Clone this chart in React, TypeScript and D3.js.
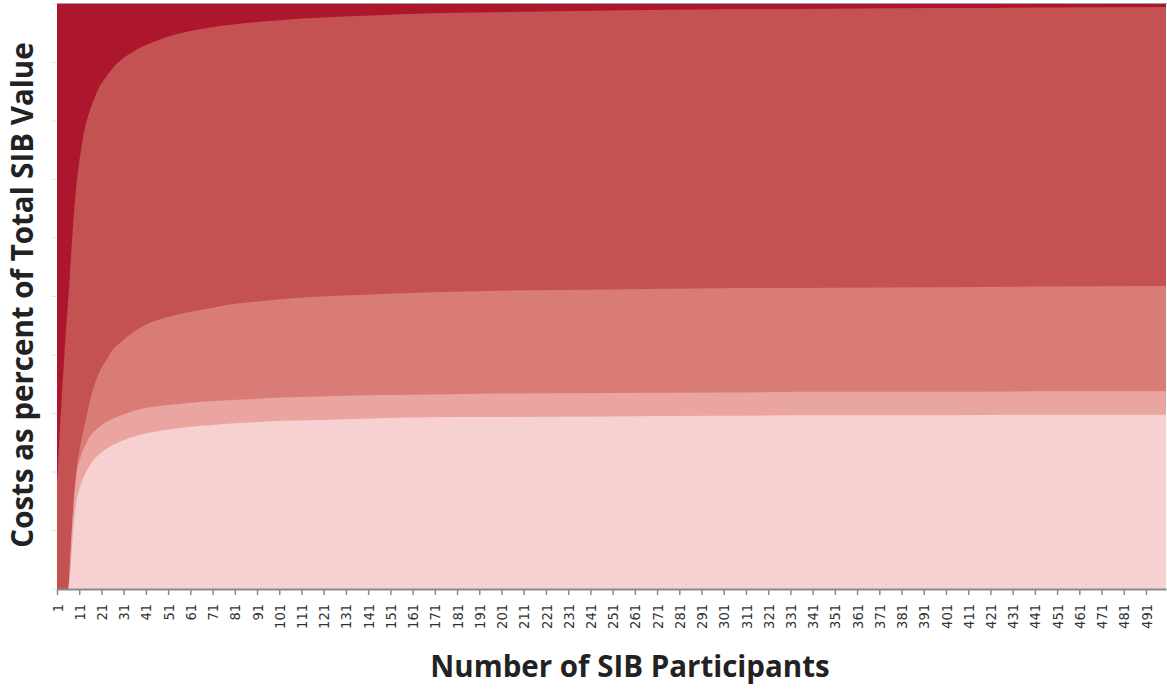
import { useRef, useMemo, useEffect } from 'react';
import * as d3 from 'd3';

// participants (x) at the points
const participants = [1, 2, 3, 4, 5, 6, 7, 8, 9, 10, 11, 12, 13, 14, 16, 18, 20, 23, 26, 30, 35, 40, 45, 50, 60, 70, 80, 90, 100, 120, 140, 160, 180, 200, 250, 300, 350, 400, 450, 500];

// upper edge of each band, percent of total SIB value
const totalCost = participants.map(() => 100);
const bandRed = [18, 25, 32, 38, 44, 49, 55, 61, 66, 70, 73, 75.5, 77.8, 79.5, 82, 84, 85.8, 87.5, 89, 90.5, 91.8, 92.8, 93.6, 94.3, 95.3, 96, 96.5, 96.9, 97.2, 97.7, 98, 98.3, 98.5, 98.6, 98.9, 99.1, 99.2, 99.3, 99.4, 99.5];
const bandMid = [0, 0, 0, 0, 0, 0, 6, 12, 17, 21, 23.5, 25.5, 27.3, 29, 32.5, 35, 37, 39, 40.8, 42.3, 43.8, 45, 45.8, 46.4, 47.3, 48, 48.7, 49.1, 49.5, 50, 50.3, 50.6, 50.8, 51, 51.2, 51.4, 51.5, 51.6, 51.7, 51.8];
const bandLight = [0, 0, 0, 0, 0, 0, 5.5, 12, 17, 20.3, 21.8, 23, 24, 24.8, 26.2, 27, 27.7, 28.5, 29.1, 29.7, 30.4, 30.9, 31.2, 31.4, 31.8, 32.1, 32.3, 32.5, 32.7, 32.9, 33.1, 33.2, 33.3, 33.4, 33.5, 33.6, 33.7, 33.7, 33.8, 33.8];
const bandPale = [0, 0, 0, 0, 0, 0, 3, 8.5, 12.8, 15.5, 17, 18.2, 19.1, 19.9, 21.3, 22.3, 23, 23.9, 24.6, 25.3, 26, 26.5, 26.9, 27.2, 27.7, 28, 28.3, 28.5, 28.7, 28.9, 29.1, 29.3, 29.4, 29.4, 29.5, 29.6, 29.7, 29.7, 29.8, 29.8];

const seriesList = [
  { key: 'total', values: totalCost, color: '#ad172d' },
  { key: 'red', values: bandRed, color: '#c55252' },
  { key: 'mid', values: bandMid, color: '#d97c77' },
  { key: 'light', values: bandLight, color: '#eaa5a1' },
  { key: 'pale', values: bandPale, color: '#f7d1d1' },
];

const tickValues = d3.range(1, 500, 10);
const yTicks = d3.range(0, 101, 10);

const width = 1167;
const height = 698;
const margin = { top: 4, right: 1, bottom: 109, left: 57 };

const App = () => {
  const axesRef = useRef(null);

  const xScale = useMemo(() => d3.scaleLinear()
    .domain([1, 500])
    .range([margin.left, width - margin.right]), []);

  const yScale = useMemo(() => d3.scaleLinear()
    .domain([0, 100])
    .range([height - margin.bottom, margin.top]), []);

  const areaGen = useMemo(() => d3.area<number>()
    .x((_, i) => xScale(participants[i]))
    .y0(yScale(0))
    .y1(d => yScale(d))
    .curve(d3.curveMonotoneX), [xScale, yScale]);

  useEffect(() => {
    const g = d3.select(axesRef.current);
    g.selectAll('*').remove();

    // X AXIS
    const xAxis = g.append('g')
      .attr('transform', `translate(0, ${yScale(0)})`)
      .call(d3.axisBottom(xScale).tickValues(tickValues).tickSize(6).tickSizeOuter(0).tickFormat(d3.format('d')));
    xAxis.select('.domain').attr('stroke', '#8a8a8a').attr('stroke-width', 2);
    xAxis.selectAll('.tick line').attr('stroke', '#8a8a8a').attr('stroke-width', 1.5);
    xAxis.selectAll('.tick text')
      .attr('fill', '#333')
      .attr('font-family', '"Liberation Sans Narrow", "DejaVu Sans Condensed", sans-serif')
      .attr('font-size', 14.5)
      .attr('text-anchor', 'end')
      .attr('transform', 'rotate(-90)')
      .attr('x', -15)
      .attr('y', 0)
      .attr('dy', '0.35em');

    // faint y ticks
    g.append('g')
      .selectAll('line')
      .data(yTicks)
      .join('line')
      .attr('x1', margin.left - 6)
      .attr('x2', margin.left)
      .attr('y1', d => yScale(d))
      .attr('y2', d => yScale(d))
      .attr('stroke', '#e2e2e2');

    // top border
    g.append('line')
      .attr('x1', margin.left)
      .attr('x2', width)
      .attr('y1', margin.top - 0.5)
      .attr('y2', margin.top - 0.5)
      .attr('stroke', '#a0a0a0');
  }, [xScale, yScale]);

  return (
    <svg
      width={width}
      height={height}
      style={{ position: 'absolute', left: 0, top: 0, background: '#fff' }}
    >
      <g className="chart-group">
        {seriesList.map(s => (
          <path key={s.key} d={areaGen(s.values) || ''} fill={s.color} />
        ))}
      </g>
      <g className="axis-group" ref={axesRef} />
      <text
        x={630}
        y={677}
        textAnchor="middle"
        fontFamily="'Open Sans', Roboto, sans-serif"
        fontWeight="bold"
        fontSize={29.5}
        fill="#222"
      >
        Number of SIB Participants
      </text>
      <text
        transform="translate(33, 295) rotate(-90)"
        textAnchor="middle"
        fontFamily="'Open Sans', Roboto, sans-serif"
        fontWeight="bold"
        fontSize={29.5}
        fill="#222"
      >
        Costs as percent of Total SIB Value
      </text>
    </svg>
  );
};

export default App;
